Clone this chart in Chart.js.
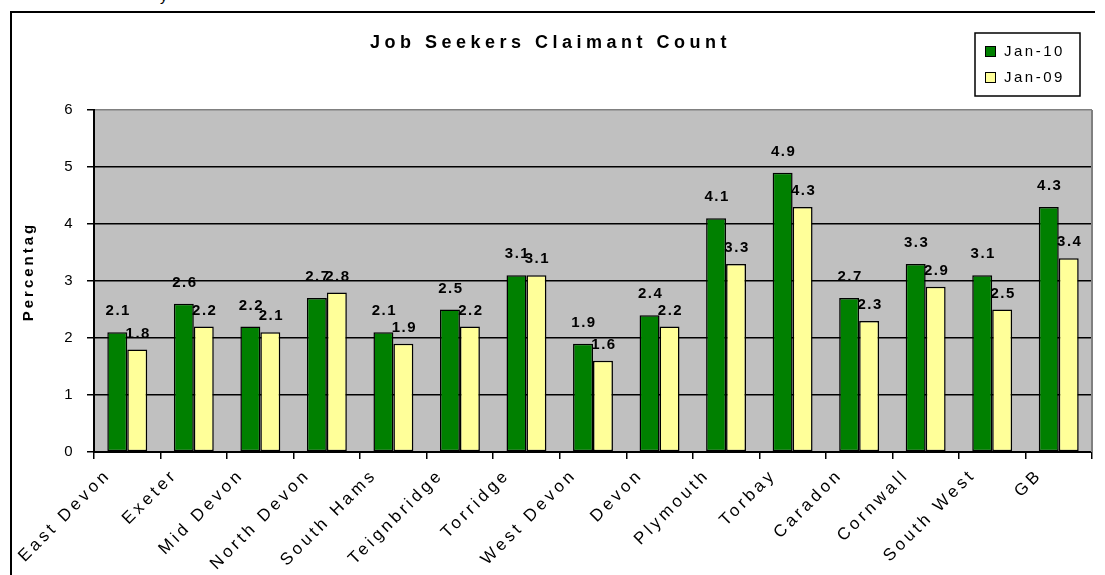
<!DOCTYPE html>
<html>
<head>
<meta charset="utf-8">
<script src="https://cdn.jsdelivr.net/npm/chart.js@4/dist/chart.umd.min.js"></script>
<style>
  html, body { margin: 0; padding: 0; background: #fff; }
  #wrap { position: relative; width: 1105px; height: 575px; overflow: hidden; }
  #frame { position: absolute; left: 10px; top: 11px; width: 1083px; height: 600px;
           border-left: 2px solid #000; border-top: 2px solid #000; }
  #cut { position: absolute; left: 160px; top: -13px; font: 15px Arial, "Liberation Sans", sans-serif; }
  canvas { position: absolute; left: 0; top: 0; }
</style>
</head>
<body>
<div id="wrap">
  <div id="cut">y</div>
  <div id="frame"></div>
  <canvas id="myChart" width="1105" height="575"></canvas>
</div>
<script>
// chart values
const categories = ['East Devon', 'Exeter', 'Mid Devon', 'North Devon', 'South Hams',
  'Teignbridge', 'Torridge', 'West Devon', 'Devon', 'Plymouth', 'Torbay',
  'Caradon', 'Cornwall', 'South West', 'GB'];
const jan10 = [2.1, 2.6, 2.2, 2.7, 2.1, 2.5, 3.1, 1.9, 2.4, 4.1, 4.9, 2.7, 3.3, 3.1, 4.3];
const jan09 = [1.8, 2.2, 2.1, 2.8, 1.9, 2.2, 3.1, 1.6, 2.2, 3.3, 4.3, 2.3, 2.9, 2.5, 3.4];
const seriesNames = ['Jan-10', 'Jan-09'];
const seriesColors = ['#008000', '#ffff99'];
const yMin = 0;
const yMax = 6;
const yStep = 1;
const chartTitle = 'Job Seekers Claimant Count';
const yTitle = 'Percentag';

const FONT = 'Arial, "Liberation Sans", sans-serif';

// draws the grey plot area, value labels, titles and legend
const decor = {
    id: 'decor',
    beforeUpdate(chart) {
        chart.ctx.letterSpacing = '3.5px';
    },
    beforeDraw(chart) {
        const ctx = chart.ctx;
        const a = chart.chartArea;
        ctx.letterSpacing = '3.5px';
        ctx.save();
        ctx.fillStyle = '#c0c0c0';
        ctx.fillRect(a.left, a.top, a.right - a.left, a.bottom - a.top);
        ctx.restore();
    },
    beforeDatasetsDraw(chart) {
        const ctx = chart.ctx;
        const a = chart.chartArea;
        ctx.save();
        ctx.strokeStyle = '#808080';
        ctx.lineWidth = 2;
        ctx.beginPath();
        ctx.moveTo(a.right, a.top);
        ctx.lineTo(a.right, a.bottom);
        ctx.stroke();
        ctx.restore();
    },
    afterDatasetsDraw(chart) {
        const ctx = chart.ctx;
        const lift = [21, 16];
        ctx.save();
        ctx.font = 'bold 15px ' + FONT;
        ctx.letterSpacing = '1.5px';
        ctx.fillStyle = '#000';
        ctx.textAlign = 'center';
        ctx.textBaseline = 'middle';
        chart.data.datasets.forEach((ds, i) => {
            const meta = chart.getDatasetMeta(i);
            meta.data.forEach((bar, j) => {
                ctx.fillText(ds.data[j].toFixed(1), bar.x + 1, bar.y - lift[i]);
            });
        });
        ctx.restore();
    },
    afterDraw(chart) {
        const ctx = chart.ctx;
        ctx.save();
        ctx.fillStyle = '#000';

        // title
        ctx.font = 'bold 18px ' + FONT;
        ctx.letterSpacing = '4.5px';
        ctx.textAlign = 'left';
        ctx.textBaseline = 'alphabetic';
        ctx.fillText(chartTitle, 370, 48);

        // y axis title
        ctx.save();
        ctx.translate(33, 273);
        ctx.rotate(-Math.PI / 2);
        ctx.font = 'bold 15px ' + FONT;
        ctx.letterSpacing = '3px';
        ctx.textAlign = 'center';
        ctx.fillText(yTitle, 1.5, 0);
        ctx.restore();

        // legend
        ctx.lineWidth = 1.5;
        ctx.strokeStyle = '#000';
        ctx.strokeRect(975, 33, 105, 63);
        ctx.font = '15px ' + FONT;
        ctx.letterSpacing = '2.5px';
        ctx.textAlign = 'left';
        ctx.textBaseline = 'middle';
        ctx.lineWidth = 1;
        seriesNames.forEach((name, i) => {
            const y = 52 + i * 26;
            ctx.fillStyle = seriesColors[i];
            ctx.fillRect(985.5, y - 5.5, 10, 10);
            ctx.strokeRect(985.5, y - 5.5, 10, 10);
            ctx.fillStyle = '#000';
            ctx.fillText(name, 1004, y);
        });
        ctx.restore();
    }
};

const config = {
    type: 'bar',
    data: {
        labels: categories,
        datasets: [
            { label: seriesNames[0], data: jan10, backgroundColor: seriesColors[0],
              borderColor: '#000', borderWidth: 1.5, borderSkipped: false },
            { label: seriesNames[1], data: jan09, backgroundColor: seriesColors[1],
              borderColor: '#000', borderWidth: 1.5, borderSkipped: false }
        ]
    },
    options: {
        responsive: false,
        animation: false,
        devicePixelRatio: 1,
        categoryPercentage: 0.6,
        barPercentage: 1.0,
        layout: { padding: { top: 110, right: 13, bottom: 0, left: 0 } },
        plugins: {
            legend: { display: false },
            title: { display: false },
            tooltip: { enabled: false }
        },
        scales: {
            x: {
                offset: true,
                grid: { display: true, drawOnChartArea: false, offset: true,
                        tickLength: 7, color: '#000', lineWidth: 1.5 },
                border: { display: true, color: '#000', width: 2 },
                ticks: {
                    autoSkip: false, maxRotation: 45, minRotation: 45,
                    labelOffset: -19, padding: 6,
                    color: '#000', font: { family: FONT, size: 17 }
                },
                afterFit(s) { s.height = 123; }
            },
            y: {
                min: yMin, max: yMax,
                grid: {
                    color: c => (c.tick && c.tick.value === yMax ? '#808080' : '#000'),
                    lineWidth: 1.5, tickLength: 7, tickColor: '#000'
                },
                border: { display: true, color: '#000', width: 2 },
                ticks: { stepSize: yStep, padding: 11, color: '#000',
                         font: { family: FONT, size: 15 } },
                afterFit(s) { s.width = 94; }
            }
        }
    },
    plugins: [decor]
};

const myChart = new Chart(document.getElementById('myChart'), config);
</script>
</body>
</html>
